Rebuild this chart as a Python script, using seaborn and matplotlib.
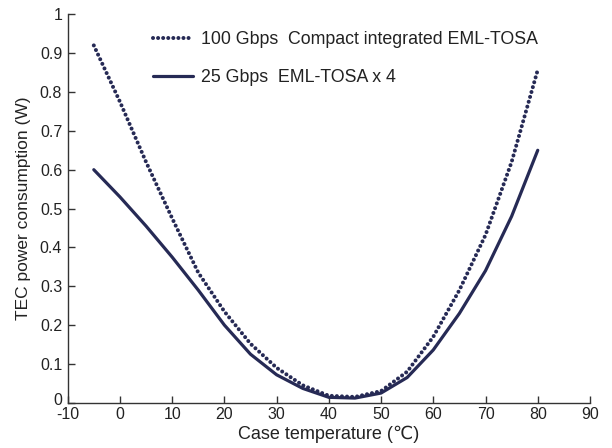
import numpy as np
import pandas as pd
import matplotlib
matplotlib.use('Agg')
import matplotlib.pyplot as plt
import matplotlib.transforms as mtransforms
import seaborn as sns

# Данные
temperature = [-5, 0, 5, 10, 15, 20, 25, 30, 35, 40, 45, 50, 55, 60, 65, 70, 75, 80]
power_100g = [0.92, 0.775, 0.62, 0.475, 0.335, 0.235, 0.152, 0.09, 0.045, 0.018,
              0.015, 0.03, 0.08, 0.17, 0.29, 0.432, 0.62, 0.857]
power_25g = [0.60, 0.53, 0.455, 0.375, 0.29, 0.20, 0.125, 0.072, 0.037, 0.014,
             0.012, 0.025, 0.065, 0.136, 0.23, 0.34, 0.48, 0.65]
label_100g = '100 Gbps  Compact integrated EML-TOSA'
label_25g = '25 Gbps  EML-TOSA x 4'
x_ticks = list(range(-10, 91, 10))
y_ticks = [0, 0.1, 0.2, 0.3, 0.4, 0.5, 0.6, 0.7, 0.8, 0.9, 1]
y_tick_labels = ['0', '0.1', '0.2', '0.3', '0.4', '0.5', '0.6', '0.7', '0.8', '0.9', '1']

sns.set_style('ticks')
plt.rcParams['font.family'] = ['Liberation Sans', 'DejaVu Sans']
plt.rcParams['axes.unicode_minus'] = False

line_color = '#262a55'
text_color = '#222222'
df = pd.DataFrame({'t': temperature, 'p100': power_100g, 'p25': power_25g})

fig = plt.figure(figsize=(6.12, 4.48), dpi=100)
ax = fig.add_axes([0.1106, 0.101, 0.964 - 0.1106, 0.968 - 0.101])

sns.lineplot(data=df, x='t', y='p100', ax=ax, color=line_color, linewidth=2.9,
             linestyle=(0, (0.01, 1.25)), dash_capstyle='round', label=label_100g)
sns.lineplot(data=df, x='t', y='p25', ax=ax, color=line_color, linewidth=2.3,
             label=label_25g)

ax.set_xlim(-10, 90)
ax.set_ylim(0, 1)
ax.set_xticks(x_ticks)
ax.set_yticks(y_ticks)
ax.set_yticklabels(y_tick_labels)
ax.tick_params(axis='both', direction='in', length=5, width=1, colors='#333333',
               labelsize=11.5, labelcolor=text_color)
ax.tick_params(axis='x', pad=3)
ax.tick_params(axis='y', pad=4)
for s in ['left', 'bottom']:
    ax.spines[s].set_color('#333333')
    ax.spines[s].set_linewidth(1)
sns.despine(ax=ax)

# подвинуть "0" по оси Y немного вверх
zero_lbl = ax.get_yticklabels()[0]
zero_lbl.set_transform(zero_lbl.get_transform() +
                       mtransforms.ScaledTranslation(0, 4 / 100, fig.dpi_scale_trans))

ax.set_xlabel('Case temperature (\u2103)', fontsize=13, color=text_color, labelpad=3)
ax.set_ylabel('TEC power consumption (W)', fontsize=12.5, color=text_color, labelpad=6)

leg = ax.legend(loc='upper left', bbox_to_anchor=(153 / 612, 1 - 31 / 448),
                bbox_transform=fig.transFigure, frameon=False, fontsize=12.8,
                handlelength=2.25, handletextpad=0.45, labelspacing=1.2, borderpad=0,
                borderaxespad=0)
for t in leg.get_texts():
    t.set_color(text_color)

fig.savefig('out.png', dpi=100)
